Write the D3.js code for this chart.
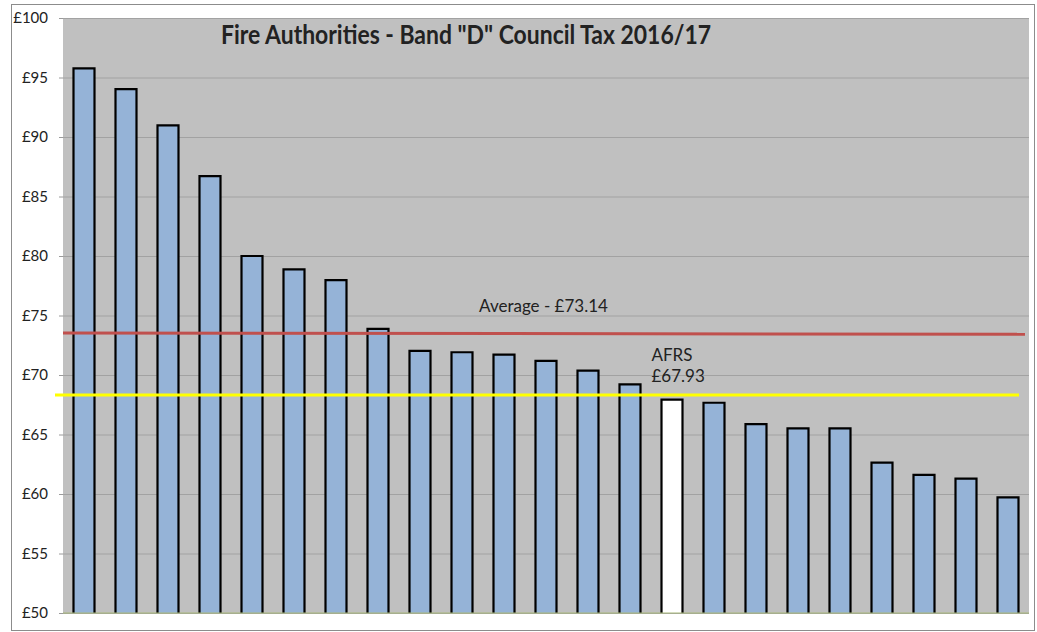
<!DOCTYPE html>
<html>
<head>
<meta charset="utf-8">
<script src="https://cdn.jsdelivr.net/npm/d3@7"></script>
<style>
  body { margin: 0; background: #fff; }
  svg { display: block; }
  text { font-family: Lato, "Open Sans", sans-serif; fill: #222; }
</style>
</head>
<body>
<svg></svg>
<script>
// Band D council tax per fire authority, highest to lowest
const authorities = [
  "FA01", "FA02", "FA03", "FA04", "FA05", "FA06", "FA07", "FA08",
  "FA09", "FA10", "FA11", "FA12", "FA13", "FA14", "AFRS", "FA16",
  "FA17", "FA18", "FA19", "FA20", "FA21", "FA22", "FA23"
];
const bandD = [
  95.77, 94.03, 90.98, 86.72, 80.0, 78.88, 77.98, 73.87,
  72.02, 71.91, 71.71, 71.18, 70.36, 69.22, 67.93, 67.67,
  65.88, 65.52, 65.52, 62.63, 61.6, 61.29, 59.72
];
const yTicks = [50, 55, 60, 65, 70, 75, 80, 85, 90, 95, 100];
const averageLine = [73.53, 73.42]; // drawn level at left and right ends
const afrsLine = 68.32;
const highlight = "AFRS";

const width = 1037, height = 632;
const margin = { top: 18, right: 8, bottom: 19, left: 63 };

const svg = d3.select("svg").attr("width", width).attr("height", height);

// outer chart border
svg.append("rect")
  .attr("x", 11.5).attr("y", 4.5)
  .attr("width", width - 14).attr("height", height - 6)
  .attr("fill", "#fff")
  .attr("stroke", "#8c8c8c");

const x = d3.scaleBand()
  .domain(authorities)
  .range([margin.left, width - margin.right])
  .paddingInner(0.5)
  .paddingOuter(0.25);

const y = d3.scaleLinear()
  .domain([50, 100])
  .range([height - margin.bottom, margin.top]);

// plot area
svg.append("rect")
  .attr("x", margin.left).attr("y", margin.top)
  .attr("width", width - margin.right - margin.left)
  .attr("height", height - margin.bottom - margin.top)
  .attr("fill", "#c0c0c0");

const yAxis = svg.append("g")
  .attr("transform", `translate(${margin.left},0)`)
  .call(d3.axisLeft(y).tickValues(yTicks).tickSize(4).tickPadding(11)
    .tickFormat(d => `£${d}`));
yAxis.select(".domain").remove();
yAxis.selectAll(".tick line").attr("stroke", "#9a9a9a");
yAxis.selectAll(".tick text")
  .style("font-size", "15px").attr("fill", "#222");

// gridlines
svg.append("g")
  .selectAll("line")
  .data(yTicks)
  .join("line")
  .attr("x1", margin.left).attr("x2", width - margin.right)
  .attr("y1", d => y(d) + 0.5).attr("y2", d => y(d) + 0.5)
  .attr("stroke", "#a2a2a2")
  .attr("stroke-width", 1.2);

// bars
const bars = svg.append("g")
  .selectAll("g")
  .data(authorities.map((name, i) => ({ name, value: bandD[i] })))
  .join("g");

bars.append("rect")
  .attr("x", d => x(d.name))
  .attr("y", d => y(d.value))
  .attr("width", x.bandwidth())
  .attr("height", d => y(50) - y(d.value))
  .attr("fill", d => d.name === highlight ? "#ffffff" : "#95b3d7");

bars.append("path")
  .attr("d", d => {
    const p = d3.path();
    p.moveTo(x(d.name), y(50));
    p.lineTo(x(d.name), y(d.value));
    p.lineTo(x(d.name) + x.bandwidth(), y(d.value));
    p.lineTo(x(d.name) + x.bandwidth(), y(50));
    return p.toString();
  })
  .attr("fill", "none")
  .attr("stroke", "#000")
  .attr("stroke-width", 2.2);

// baseline
svg.append("line")
  .attr("x1", margin.left).attr("x2", width - margin.right)
  .attr("y1", y(50)).attr("y2", y(50))
  .attr("stroke", "#a9b97a")
  .attr("stroke-width", 1);

// average line
svg.append("line")
  .attr("x1", margin.left).attr("x2", width - margin.right - 4)
  .attr("y1", y(averageLine[0])).attr("y2", y(averageLine[1]))
  .attr("stroke", "#c0504d")
  .attr("stroke-width", 3);

svg.append("text")
  .attr("x", x("FA12") + x.bandwidth() - 13)
  .attr("y", y(averageLine[0]) - 21)
  .attr("text-anchor", "middle")
  .style("font-size", "17px")
  .text("Average - £73.14");

// AFRS line
svg.append("line")
  .attr("x1", margin.left - 8).attr("x2", width - margin.right - 10)
  .attr("y1", y(afrsLine)).attr("y2", y(afrsLine))
  .attr("stroke", "#ffff00")
  .attr("stroke-width", 3);

const afrsLabel = svg.append("text")
  .attr("x", x(highlight) - 10)
  .style("font-size", "17px");
afrsLabel.append("tspan").attr("x", x(highlight) - 10).attr("y", y(afrsLine) - 34).text("AFRS");
afrsLabel.append("tspan").attr("x", x(highlight) - 10).attr("y", y(afrsLine) - 13).text("£67.93");

// title
svg.append("text")
  .attr("x", 466)
  .attr("y", 44)
  .attr("text-anchor", "middle")
  .attr("textLength", 490)
  .attr("lengthAdjust", "spacingAndGlyphs")
  .style("font-size", "26px")
  .style("font-weight", "bold")
  .attr("fill", "#111")
  .text('Fire Authorities - Band "D" Council Tax 2016/17');
</script>
</body>
</html>
